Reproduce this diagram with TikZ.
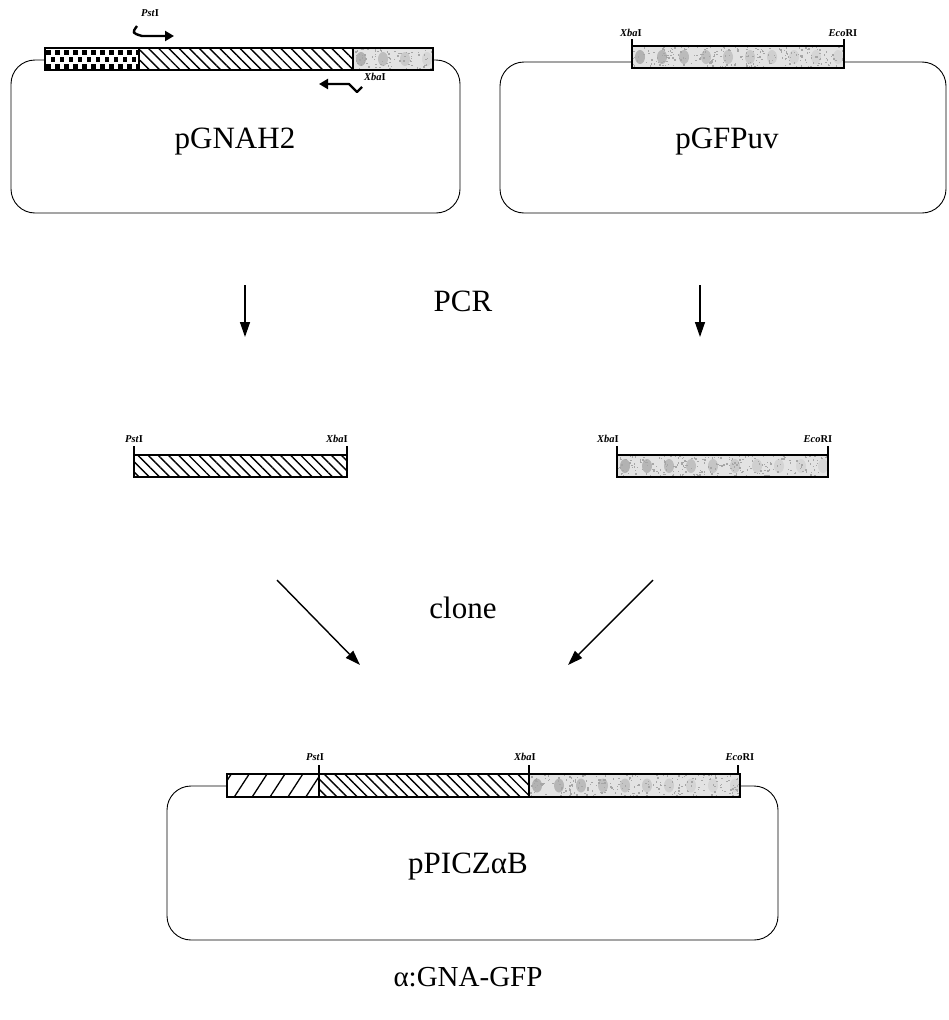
\documentclass[tikz,border=0pt]{standalone}
\usepackage{fontspec}
\setmainfont{Liberation Serif}
\usetikzlibrary{arrows.meta,patterns.meta}
\newcommand\gfpfill[4]{% x1 y1 x2 y2
  \begin{scope}
    \clip (#1,#2) rectangle (#3,#4);
    \fill[gray!22] (#1,#2) rectangle (#3,#4);
    \pgfmathsetmacro\gw{#3-#1}
    \pgfmathtruncatemacro\gn{\gw/22}
    \foreach \k in {0,...,\gn}{
      \pgfmathsetmacro\gx{#1+8+22*\k}
      \pgfmathsetmacro\gop{max(0.25,1-\k/(\gn+1))}
      \fill[gray!60,opacity=\gop] (\gx,{(#2+#4)/2}) ellipse (5pt and 7pt);
    }
    \pgfmathtruncatemacro\gd{\gw*1.2}
    \foreach \k in {1,...,\gd}{
      \fill[gray!70] ({#1+rnd*\gw},{#2+rnd*(#4-#2)}) rectangle +(1.4,1.4);
    }
  \end{scope}}
\newcommand\checkfill[4]{%
  \begin{scope}
    \clip (#1,#2) rectangle (#3,#4);
    \fill[white] (#1,#2) rectangle (#3,#4);
    \foreach \r in {0,1,2}{
      \foreach \c in {0,...,11}{
        \fill[black] ({#1+1+9*\c+mod(\r,2)*4.5},{#2+2+7*\r}) rectangle +(4.6,4.6);
      }
    }
  \end{scope}}
\begin{document}
\begin{tikzpicture}[x=1pt,y=-1pt,
  plasmid/.style={line width=0.9pt, rounded corners=24pt},
  barframe/.style={line width=1.8pt},
  sitetick/.style={line width=1.8pt},
  divider/.style={line width=1.1pt},
  site/.style={font=\fontsize{10.5}{11}\selectfont\bfseries\itshape, inner sep=0pt, anchor=base},
  big/.style={font=\fontsize{31}{33}\selectfont, inner sep=0pt, anchor=base},
  flow/.style={line width=1.4pt, -{Triangle[length=15pt,width=10pt]}},
  primer/.style={line width=2.4pt, -{Triangle[length=9pt,width=10pt]}, line join=round},
  hatch/.style={pattern={Lines[angle=-45,distance=7.2pt,line width=1.4pt]}},
  alpha/.style={pattern={Lines[angle=57,distance=15pt,line width=1.3pt]}}
]
\pgfmathsetseed{7}
\useasboundingbox (0,0) rectangle (948,1020);

% ---------- top left: pGNAH2 ----------
\draw[plasmid] (45,60) -- (11,60) -- (11,213) -- (460,213) -- (460,60) -- (433,60);
\checkfill{45}{48}{139}{70}
\fill[white] (139,48) rectangle (353,70);
\fill[hatch] (139,48) rectangle (353,70);
\gfpfill{353}{48}{433}{70}
\draw[divider] (139,48) -- (139,70) (353,48) -- (353,70);
\draw[barframe] (45,48) rectangle (433,70);
\node[big] (pgnah) at (235,148) {pGNAH2};
\coordinate (pfA) at (137,26);
\coordinate (pfB) at (174,36);
\draw[primer] (pfA) .. controls (132,33) .. (142,36) -- (pfB);
\node[site] (pstA) at (150,16) {Pst\textup{I}};
\coordinate (prA) at (362,87);
\coordinate (prB) at (319,84);
\draw[primer] (prA) -- (357,92) -- (349,84) -- (prB);
\node[site,anchor=base west] (xbaA) at (364,80) {Xba\textup{I}};

% ---------- top right: pGFPuv ----------
\draw[plasmid] (632,62) -- (500,62) -- (500,213) -- (946,213) -- (946,62) -- (844,62);
\gfpfill{632}{46}{844}{68}
\draw[barframe] (632,46) rectangle (844,68);
\draw[sitetick] (632,39) -- (632,46) (844,39) -- (844,46);
\node[site] (xbaB) at (631,36) {Xba\textup{I}};
\node[site] (ecoB) at (843,36) {Eco\textup{RI}};
\node[big] (pgfp) at (727,148) {pGFPuv};

% ---------- PCR ----------
\node[big] (pcr) at (463,311) {PCR};
\coordinate (dL1) at (245,285);
\coordinate (dL2) at (245,337);
\coordinate (dR1) at (700,285);
\coordinate (dR2) at (700,337);
\draw[flow] (dL1) -- (dL2);
\draw[flow] (dR1) -- (dR2);

% ---------- PCR products ----------
\fill[white] (134,455) rectangle (347,477);
\fill[hatch] (134,455) rectangle (347,477);
\draw[barframe] (134,455) rectangle (347,477);
\draw[sitetick] (134,446) -- (134,455) (347,446) -- (347,455);
\node[site] (pstC) at (134,442) {Pst\textup{I}};
\node[site] (xbaC) at (337,442) {Xba\textup{I}};

\gfpfill{617}{455}{828}{477}
\draw[barframe] (617,455) rectangle (828,477);
\draw[sitetick] (617,446) -- (617,455) (828,446) -- (828,455);
\node[site] (xbaD) at (608,442) {Xba\textup{I}};
\node[site] (ecoD) at (818,442) {Eco\textup{RI}};

% ---------- clone ----------
\node[big] (clone) at (463,618) {clone};
\coordinate (cL1) at (277,580);
\coordinate (cL2) at (360,665);
\coordinate (cR1) at (653,580);
\coordinate (cR2) at (568,665);
\draw[flow] (cL1) -- (cL2);
\draw[flow] (cR1) -- (cR2);

% ---------- bottom: pPICZaB ----------
\draw[plasmid] (227,786) -- (167,786) -- (167,940) -- (778,940) -- (778,786) -- (740,786);
\fill[white] (227,774) rectangle (740,797);
\fill[alpha] (227,774) rectangle (319,797);
\fill[hatch] (319,774) rectangle (529,797);
\gfpfill{529}{774}{740}{797}
\draw[divider] (319,774) -- (319,797) (529,774) -- (529,797);
\draw[barframe] (227,774) rectangle (740,797);
\draw[sitetick] (319,765) -- (319,774) (529,765) -- (529,774) (738,765) -- (738,774);
\node[site] (pstE) at (315,760) {Pst\textup{I}};
\node[site] (xbaE) at (525,760) {Xba\textup{I}};
\node[site] (ecoE) at (740,760) {Eco\textup{RI}};
\node[big] (ppicz) at (468,873) {pPICZαB};
\node[big,font=\fontsize{29}{31}\selectfont] (fusion) at (468,986) {α:GNA-GFP};
\end{tikzpicture}
\end{document}
